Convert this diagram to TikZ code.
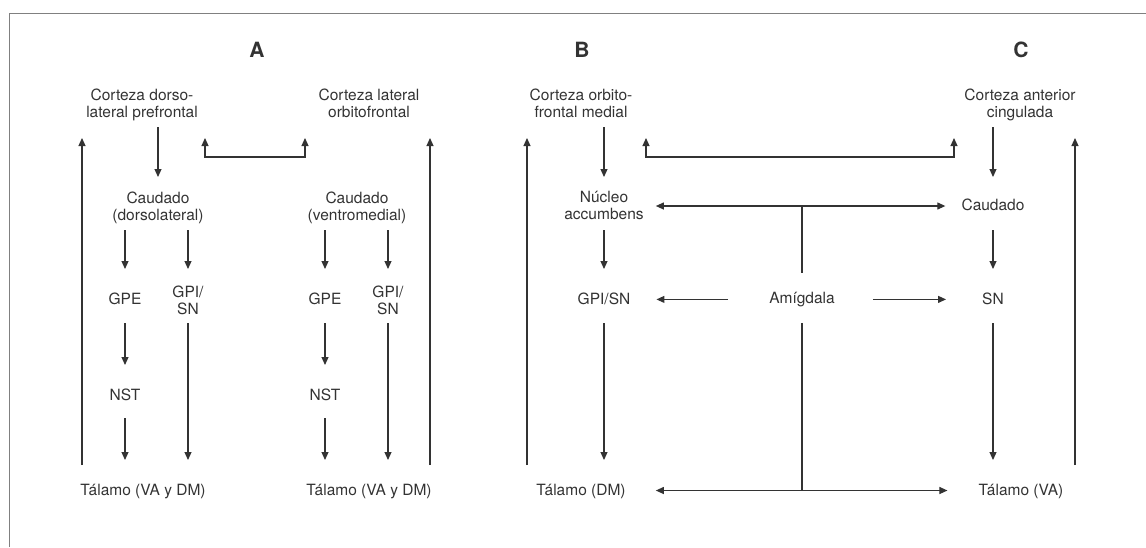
\documentclass[tikz,border=0pt]{standalone}
\usepackage{fontspec}
\setmainfont{TeX Gyre Heros}
\usepackage{tikz}
\usepackage{xcolor}
\usetikzlibrary{arrows.meta,calc}
\definecolor{ink}{gray}{0.2}

\begin{document}
\begin{tikzpicture}[
  x=1pt, y=-1pt,
  lbl/.style={inner sep=0pt, align=center, text=ink, font=\fontsize{15.5}{17}\selectfont},
  ttl/.style={inner sep=0pt, text=ink, font=\fontsize{21}{24}\selectfont\bfseries},
  ln/.style={draw=ink, line width=1.1pt},
  arr/.style={ln, -{Triangle[length=8pt,width=7pt]}},
  dbl/.style={ln, {Triangle[length=8pt,width=7pt]}-{Triangle[length=8pt,width=7pt]}},
  frm/.style={draw=black!50, line width=1pt}
]
\useasboundingbox (0,0) rectangle (1146,547);
\draw[frm] (9,547) -- (9,13) -- (1146,13);

\node[ttl] (ttA) at (257,50) {A};
\node[ttl] (ttB) at (582,50) {B};
\node[ttl] (ttC) at (1021,50) {C};

% rows and rails
\coordinate (r1b) at (0,127);
\coordinate (r2t) at (0,177);
\coordinate (r2b) at (0,230);
\coordinate (r3t) at (0,269);
\coordinate (r3b) at (0,323);
\coordinate (r4t) at (0,365);
\coordinate (r4b) at (0,418);
\coordinate (r5t) at (0,460);
\coordinate (rlo) at (0,465);
\coordinate (rhi) at (0,138);
\coordinate (rbr) at (0,157);
\coordinate (hN) at (0,206);
\coordinate (hT) at (0,490.5);
\coordinate (railA1) at (82,0);
\coordinate (railA2) at (430,0);
\coordinate (railB) at (527,0);
\coordinate (railC) at (1075,0);
\coordinate (brA1) at (205,0);
\coordinate (brA2) at (305,0);
\coordinate (brB1) at (646,0);
\coordinate (brB2) at (954,0);

% A
\node[lbl] (cDL) at (142,105) {Corteza dorso-\\lateral prefrontal};
\node[lbl] (cLO) at (369,103.4) {Corteza lateral\\orbitofrontal};
\node[lbl] (kDL) at (158,207.5) {Caudado\\(dorsolateral)};
\node[lbl] (kVM) at (357,207.5) {Caudado\\(ventromedial)};
\node[lbl] (gpeL) at (125,299) {GPE};
\node[lbl] (gpiL) at (188,300.4) {GPI/\\SN};
\node[lbl] (gpeR) at (325,299) {GPE};
\node[lbl] (gpiR) at (388,300.4) {GPI/\\SN};
\node[lbl] (nstL) at (125,395) {NST};
\node[lbl] (nstR) at (325,395) {NST};
\node[lbl] (tL) at (143,491.4) {Tálamo (VA y DM)};
\node[lbl] (tR) at (369,491.4) {Tálamo (VA y DM)};

\draw[arr] (kDL |- r1b) -- (kDL |- r2t);
\draw[arr] (gpeL |- r2b) -- (gpeL |- r3t);
\draw[arr] (gpiL |- r2b) -- (gpiL |- r3t);
\draw[arr] (nstL |- r3b) -- (nstL |- r4t);
\draw[arr] (nstL |- r4b) -- (nstL |- r5t);
\draw[arr] (gpiL |- r3b) -- (gpiL |- r5t);
\draw[arr] (gpeR |- r2b) -- (gpeR |- r3t);
\draw[arr] (gpiR |- r2b) -- (gpiR |- r3t);
\draw[arr] (nstR |- r3b) -- (nstR |- r4t);
\draw[arr] (nstR |- r4b) -- (nstR |- r5t);
\draw[arr] (gpiR |- r3b) -- (gpiR |- r5t);
\draw[arr] (railA1 |- rlo) -- (railA1 |- rhi);
\draw[arr] (railA2 |- rlo) -- (railA2 |- rhi);
\draw[dbl] (brA1 |- rhi) -- (brA1 |- rbr) -- (brA2 |- rbr) -- (brA2 |- rhi);

% B and C
\node[lbl] (cOM) at (581,103.4) {Corteza orbito-\\frontal medial};
\node[lbl] (cAC) at (1020,105) {Corteza anterior\\cingulada};
\node[lbl] (nAc) at (604,205.7) {Núcleo\\accumbens};
\node[lbl] (kC) at (993,204.9) {Caudado};
\node[lbl] (gpiB) at (604,299) {GPI/SN};
\node[lbl] (amg) at (802,299.4) {Amígdala};
\node[lbl] (snC) at (993,299) {SN};
\node[lbl] (tB) at (581,491.4) {Tálamo (DM)};
\node[lbl] (tC) at (1021,491.4) {Tálamo (VA)};

\draw[arr] (nAc |- r1b) -- (nAc |- r2t);
\draw[arr] (gpiB |- r2b) -- (gpiB |- r3t);
\draw[arr] (gpiB |- r3b) -- (gpiB |- r5t);
\draw[arr] (kC |- r1b) -- (kC |- r2t);
\draw[arr] (snC |- r2b) -- (snC |- r3t);
\draw[arr] (snC |- r3b) -- (snC |- r5t);
\draw[arr] (railB |- rlo) -- (railB |- rhi);
\draw[arr] (railC |- rlo) -- (railC |- rhi);
\draw[dbl] (brB1 |- rhi) -- (brB1 |- rbr) -- (brB2 |- rbr) -- (brB2 |- rhi);

\draw[dbl, shorten <=12pt, shorten >=16pt] (nAc.east |- hN) -- (kC.west |- hN);
\draw[ln, shorten >=19pt] (amg |- hN) -- (amg.north);
\draw[ln, shorten <=16pt] (amg.south) -- (amg |- hT);
\draw[arr, shorten <=41pt, shorten >=26pt] (amg.west) -- (gpiB.east |- amg);
\draw[arr, shorten <=38pt, shorten >=36pt] (amg.east) -- (snC.west |- amg);
\draw[dbl, shorten <=30pt, shorten >=31pt] (tB.east |- hT) -- (tC.west |- hT);
\end{tikzpicture}
\end{document}
